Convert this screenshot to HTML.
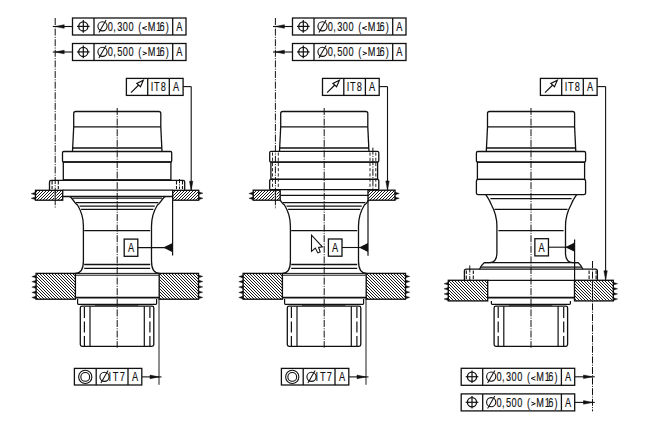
<!DOCTYPE html>
<html><head><meta charset="utf-8"><style>
html,body{margin:0;padding:0;background:#fff;width:649px;height:433px;overflow:hidden}
svg{display:block}
text{font-family:"Liberation Sans",sans-serif;fill:#111;stroke:#111;stroke-width:0.15px}
</style></head><body>
<svg width="649" height="433" viewBox="0 0 649 433">
<defs>
<pattern id="ht" width="3" height="3" patternUnits="userSpaceOnUse"><rect width="3" height="3" fill="#fff"/><path d="M-1 4L4 -1M-1 1L1 -1M2 4L4 2" stroke="#000" stroke-width="0.9"/></pattern>
<pattern id="hb" width="3" height="3" patternUnits="userSpaceOnUse"><rect width="3" height="3" fill="#fff"/><path d="M-1 -1L4 4M-1 2L1 4M2 -1L4 1" stroke="#000" stroke-width="0.9"/></pattern>
</defs>
<rect width="649" height="433" fill="#fff"/>
<rect x="72.5" y="18" width="113.5" height="17" fill="none" stroke="#111" stroke-width="1.3"/>
<line x1="94" y1="18" x2="94" y2="35" stroke="#111" stroke-width="1.3"/>
<line x1="172.7" y1="18" x2="172.7" y2="35" stroke="#111" stroke-width="1.3"/>
<circle cx="83.3" cy="26.4" r="4.6" fill="none" stroke="#111" stroke-width="1.3"/>
<line x1="77" y1="26.4" x2="89.6" y2="26.4" stroke="#111" stroke-width="1.2"/>
<line x1="83.3" y1="20.1" x2="83.3" y2="32.7" stroke="#111" stroke-width="1.2"/>
<circle cx="102.5" cy="26.3" r="4.6" fill="none" stroke="#111" stroke-width="1.1"/>
<line x1="98.9" y1="32.6" x2="106.1" y2="20.1" stroke="#111" stroke-width="1.05"/>
<g transform="scale(0.72,1)" font-size="12.8"><text x="153.12" y="30.9" text-anchor="middle">0</text><text x="159.17" y="30.9" text-anchor="middle">,</text><text x="166.39" y="30.9" text-anchor="middle">3</text><text x="174.03" y="30.9" text-anchor="middle">0</text><text x="182.08" y="30.9" text-anchor="middle">0</text><text x="194.31" y="30.9" text-anchor="middle">(</text><text x="210.42" y="30.9" text-anchor="middle">M</text><text x="220.14" y="30.9" text-anchor="middle">1</text><text x="225.14" y="30.9" text-anchor="middle">6</text><text x="232.36" y="30.9" text-anchor="middle">)</text><text x="249.1" y="30.9" text-anchor="middle">A</text></g>
<path d="M146.8 26.4L142.4 28.1L146.8 29.8" fill="none" stroke="#111" stroke-width="1.0"/>
<rect x="72.5" y="43.5" width="113.5" height="17" fill="none" stroke="#111" stroke-width="1.3"/>
<line x1="94" y1="43.5" x2="94" y2="60.5" stroke="#111" stroke-width="1.3"/>
<line x1="172.7" y1="43.5" x2="172.7" y2="60.5" stroke="#111" stroke-width="1.3"/>
<circle cx="83.3" cy="51.9" r="4.6" fill="none" stroke="#111" stroke-width="1.3"/>
<line x1="77" y1="51.9" x2="89.6" y2="51.9" stroke="#111" stroke-width="1.2"/>
<line x1="83.3" y1="45.6" x2="83.3" y2="58.2" stroke="#111" stroke-width="1.2"/>
<circle cx="102.5" cy="51.8" r="4.6" fill="none" stroke="#111" stroke-width="1.1"/>
<line x1="98.9" y1="58.1" x2="106.1" y2="45.6" stroke="#111" stroke-width="1.05"/>
<g transform="scale(0.72,1)" font-size="12.8"><text x="153.12" y="56.4" text-anchor="middle">0</text><text x="159.17" y="56.4" text-anchor="middle">,</text><text x="166.39" y="56.4" text-anchor="middle">5</text><text x="174.03" y="56.4" text-anchor="middle">0</text><text x="182.08" y="56.4" text-anchor="middle">0</text><text x="194.31" y="56.4" text-anchor="middle">(</text><text x="210.42" y="56.4" text-anchor="middle">M</text><text x="220.14" y="56.4" text-anchor="middle">1</text><text x="225.14" y="56.4" text-anchor="middle">6</text><text x="232.36" y="56.4" text-anchor="middle">)</text><text x="249.1" y="56.4" text-anchor="middle">A</text></g>
<path d="M142.7 51.7L146.7 53.3L142.7 54.9" fill="none" stroke="#111" stroke-width="1.0"/>
<line x1="52.8" y1="26.5" x2="72.5" y2="26.5" stroke="#111" stroke-width="1.1"/>
<path d="M55.2 26.5L64.2 24.7L64.2 28.3Z" fill="#111" stroke="#111" stroke-width="0.5"/>
<line x1="52.8" y1="52" x2="72.5" y2="52" stroke="#111" stroke-width="1.1"/>
<path d="M55.2 52L64.2 50.2L64.2 53.8Z" fill="#111" stroke="#111" stroke-width="0.5"/>
<rect x="126.4" y="78.4" width="56.7" height="17" fill="none" stroke="#111" stroke-width="1.3"/>
<line x1="147.7" y1="78.4" x2="147.7" y2="95.4" stroke="#111" stroke-width="1.3"/>
<line x1="169.3" y1="78.4" x2="169.3" y2="95.4" stroke="#111" stroke-width="1.3"/>
<line x1="131" y1="92.6" x2="138.7" y2="85" stroke="#111" stroke-width="1.15"/>
<path d="M143.3 80.3L136.8 83.4L140.5 86.7Z" fill="none" stroke="#111" stroke-width="1.15"/>
<g transform="scale(0.72,1)" font-size="12.8"><text x="211.11" y="91.3" text-anchor="middle">I</text><text x="217.64" y="91.3" text-anchor="middle">T</text><text x="226.67" y="91.3" text-anchor="middle">8</text><text x="244.58" y="91.3" text-anchor="middle">A</text></g>
<line x1="183.1" y1="86.6" x2="191.2" y2="86.6" stroke="#111" stroke-width="1.1"/>
<line x1="191.2" y1="86.6" x2="191.2" y2="190.3" stroke="#111" stroke-width="1.1"/>
<path d="M191.2 190.3L189.5 181.3L192.9 181.3Z" fill="#111" stroke="#111" stroke-width="0.5"/>
<path d="M73.7 127V113.5Q73.7 111.5 75.7 111.5H158.8Q160.8 111.5 160.8 113.5V127" fill="none" stroke="#111" stroke-width="1.3"/>
<line x1="73.7" y1="126.8" x2="160.8" y2="126.8" stroke="#111" stroke-width="1.3"/>
<line x1="73.7" y1="127" x2="72.5" y2="151.5" stroke="#111" stroke-width="1.3"/>
<line x1="160.8" y1="127" x2="162" y2="151.5" stroke="#111" stroke-width="1.3"/>
<line x1="72.5" y1="148" x2="162" y2="148" stroke="#111" stroke-width="1.3"/>
<rect x="62.5" y="151.5" width="109.2" height="10.5" fill="none" stroke="#111" stroke-width="1.3" rx="1.2"/>
<rect x="63.3" y="162" width="107.6" height="17.8" fill="none" stroke="#111" stroke-width="1.3"/>
<path d="M49.5 190.2V182Q49.5 180.4 51.1 180.4H183.1Q184.7 180.4 184.7 182V190.2" fill="none" stroke="#111" stroke-width="1.3"/>
<line x1="52.1" y1="181" x2="52.1" y2="189" stroke="#111" stroke-width="1.1" stroke-dasharray="3.5 1.5"/>
<line x1="58.3" y1="181" x2="58.3" y2="189" stroke="#111" stroke-width="1.1" stroke-dasharray="3.5 1.5"/>
<line x1="176.5" y1="181" x2="176.5" y2="189" stroke="#111" stroke-width="1.1" stroke-dasharray="3.5 1.5"/>
<line x1="182.5" y1="181" x2="182.5" y2="189" stroke="#111" stroke-width="1.1" stroke-dasharray="3.5 1.5"/>
<line x1="179.5" y1="179" x2="179.5" y2="189" stroke="#111" stroke-width="1.0" stroke-dasharray="4.2 1.2 1 1.2"/>
<line x1="62.7" y1="196.4" x2="172.7" y2="196.4" stroke="#111" stroke-width="1.1"/>
<path d="M62.7 196.6H68.8Q70.6 196.8 71.5 198L75.6 203.4Q76.5 204.4 77.4 204.9C79.6 208.5 83.4 214 83.4 226V261Q83.4 273.2 75.4 273.4" fill="none" stroke="#111" stroke-width="1.3"/>
<path d="M172.2 196.6H166.1Q164.3 196.8 163.4 198L159.3 203.4Q158.4 204.4 157.5 204.9C155.3 208.5 151.5 214 151.5 226V261Q151.5 273.2 159.5 273.4" fill="none" stroke="#111" stroke-width="1.3"/>
<line x1="72.4" y1="198.1" x2="162" y2="198.1" stroke="#111" stroke-width="1.1"/>
<line x1="76" y1="202.7" x2="158.4" y2="202.7" stroke="#111" stroke-width="1.2"/>
<line x1="79.6" y1="206.2" x2="154.8" y2="206.2" stroke="#111" stroke-width="1.2"/>
<line x1="81.1" y1="209.4" x2="153.3" y2="209.4" stroke="#111" stroke-width="1.3"/>
<line x1="84.2" y1="230.6" x2="150.2" y2="230.6" stroke="#111" stroke-width="1.2"/>
<line x1="84.2" y1="264.5" x2="150.2" y2="264.5" stroke="#111" stroke-width="1.7"/>
<line x1="84.2" y1="268.3" x2="150.2" y2="268.3" stroke="#111" stroke-width="1.2"/>
<rect x="35.5" y="190.3" width="27.2" height="9.9" fill="url(#ht)" stroke="#111" stroke-width="0"/>
<rect x="35.5" y="190.3" width="27.2" height="9.9" fill="none" stroke="#111" stroke-width="1.35"/>
<rect x="172.7" y="190.3" width="26" height="9.9" fill="url(#ht)" stroke="#111" stroke-width="0"/>
<rect x="172.7" y="190.3" width="26" height="9.9" fill="none" stroke="#111" stroke-width="1.35"/>
<line x1="62.7" y1="190.2" x2="172.7" y2="190.2" stroke="#111" stroke-width="1.3"/>
<path d="M35.5 192.3L31.2 193.7L35.5 195.1Z" fill="#111" stroke="#111" stroke-width="0.4"/>
<path d="M35.5 196.9L31.2 198.3L35.5 199.7Z" fill="#111" stroke="#111" stroke-width="0.4"/>
<path d="M198.7 191.8L203 193.2L198.7 194.6Z" fill="#111" stroke="#111" stroke-width="0.4"/>
<path d="M198.7 196.9L203 198.3L198.7 199.7Z" fill="#111" stroke="#111" stroke-width="0.4"/>
<line x1="55.2" y1="191" x2="55.2" y2="199.5" stroke="#fff" stroke-width="2.2"/>
<line x1="55.2" y1="191" x2="55.2" y2="199.5" stroke="#111" stroke-width="0.9"/>
<line x1="55.2" y1="18" x2="55.2" y2="208.4" stroke="#111" stroke-width="1.0" stroke-dasharray="7 1.3 1 1.3"/>
<line x1="117.2" y1="108" x2="117.2" y2="347.7" stroke="#111" stroke-width="1.0" stroke-dasharray="7 1.3 1 1.3"/>
<rect x="36.1" y="273.4" width="39.3" height="25.8" fill="url(#hb)" stroke="#111" stroke-width="0"/>
<rect x="36.1" y="273.4" width="39.3" height="25.8" fill="none" stroke="#111" stroke-width="1.35"/>
<rect x="159.2" y="273.4" width="39.3" height="25.8" fill="url(#hb)" stroke="#111" stroke-width="0"/>
<rect x="159.2" y="273.4" width="39.3" height="25.8" fill="none" stroke="#111" stroke-width="1.35"/>
<path d="M36.1 275.2L31.8 276.6L36.1 278Z" fill="#111" stroke="#111" stroke-width="0.4"/>
<path d="M36.1 280.3L31.8 281.7L36.1 283.1Z" fill="#111" stroke="#111" stroke-width="0.4"/>
<path d="M36.1 285.7L31.8 287.1L36.1 288.5Z" fill="#111" stroke="#111" stroke-width="0.4"/>
<path d="M36.1 291L31.8 292.4L36.1 293.8Z" fill="#111" stroke="#111" stroke-width="0.4"/>
<path d="M36.1 296.1L31.8 297.5L36.1 298.9Z" fill="#111" stroke="#111" stroke-width="0.4"/>
<path d="M198.5 275L202.8 276.4L198.5 277.8Z" fill="#111" stroke="#111" stroke-width="0.4"/>
<path d="M198.5 280.1L202.8 281.5L198.5 282.9Z" fill="#111" stroke="#111" stroke-width="0.4"/>
<path d="M198.5 285.5L202.8 286.9L198.5 288.3Z" fill="#111" stroke="#111" stroke-width="0.4"/>
<path d="M198.5 290.8L202.8 292.2L198.5 293.6Z" fill="#111" stroke="#111" stroke-width="0.4"/>
<path d="M198.5 296L202.8 297.4L198.5 298.8Z" fill="#111" stroke="#111" stroke-width="0.4"/>
<line x1="75.4" y1="273.4" x2="159.2" y2="273.4" stroke="#111" stroke-width="1.0"/>
<line x1="75.4" y1="275.2" x2="159.2" y2="275.2" stroke="#111" stroke-width="1.0"/>
<line x1="75.4" y1="297.7" x2="159.2" y2="297.7" stroke="#111" stroke-width="1.8"/>
<path d="M77.6 299V303.6Q77.6 304.4 78.4 304.4H155.8Q156.6 304.4 156.6 303.6V299" fill="none" stroke="#111" stroke-width="1.2"/>
<line x1="95" y1="305.2" x2="138.4" y2="305.2" stroke="#111" stroke-width="0.9"/>
<path d="M80.3 308V344.6Q80.3 346.4 82.1 346.4H152Q153.8 346.4 153.8 344.6V308Q153.8 306.2 152 306.2H82.1Q80.3 306.2 80.3 308Z" fill="none" stroke="#111" stroke-width="1.3"/>
<line x1="90" y1="306.2" x2="90" y2="346.4" stroke="#111" stroke-width="1.2"/>
<line x1="144.3" y1="306.2" x2="144.3" y2="346.4" stroke="#111" stroke-width="1.2"/>
<line x1="84.4" y1="307" x2="84.4" y2="346.4" stroke="#111" stroke-width="1.2" stroke-dasharray="11 3.5"/>
<line x1="149.9" y1="307" x2="149.9" y2="346.4" stroke="#111" stroke-width="1.2" stroke-dasharray="11 3.5"/>
<rect x="124.2" y="239.1" width="13.6" height="17.2" fill="none" stroke="#111" stroke-width="1.3"/>
<g transform="scale(0.72,1)" font-size="12.8"><text x="181.94" y="252" text-anchor="middle">A</text></g>
<line x1="137.8" y1="247.6" x2="172.6" y2="247.6" stroke="#111" stroke-width="1.1"/>
<path d="M163.2 247.6L172.6 243L172.6 252.2Z" fill="#111"/>
<line x1="172.6" y1="200.2" x2="172.6" y2="255.6" stroke="#111" stroke-width="1.2"/>
<line x1="159" y1="299.2" x2="159" y2="384.8" stroke="#111" stroke-width="0.95"/>
<rect x="74.4" y="368.4" width="67.4" height="16.6" fill="none" stroke="#111" stroke-width="1.3"/>
<line x1="96.2" y1="368.4" x2="96.2" y2="385" stroke="#111" stroke-width="1.3"/>
<line x1="128" y1="368.4" x2="128" y2="385" stroke="#111" stroke-width="1.3"/>
<circle cx="85.25" cy="376.9" r="6.6" fill="none" stroke="#111" stroke-width="1.1"/>
<circle cx="85.25" cy="376.9" r="4.4" fill="none" stroke="#111" stroke-width="1.1"/>
<circle cx="104.5" cy="376.8" r="4.6" fill="none" stroke="#111" stroke-width="1.1"/>
<line x1="100.9" y1="383.1" x2="108.1" y2="370.6" stroke="#111" stroke-width="1.05"/>
<g transform="scale(0.72,1)" font-size="12.8"><text x="152.5" y="380.8" text-anchor="middle">I</text><text x="160.69" y="380.8" text-anchor="middle">T</text><text x="169.86" y="380.8" text-anchor="middle">7</text><text x="187.64" y="380.8" text-anchor="middle">A</text></g>
<line x1="142.1" y1="376.9" x2="161.5" y2="376.9" stroke="#111" stroke-width="1.1"/>
<path d="M159 376.9L150 378.7L150 375.1Z" fill="#111" stroke="#111" stroke-width="0.5"/>
<rect x="292.5" y="18" width="113.5" height="17" fill="none" stroke="#111" stroke-width="1.3"/>
<line x1="314" y1="18" x2="314" y2="35" stroke="#111" stroke-width="1.3"/>
<line x1="392.7" y1="18" x2="392.7" y2="35" stroke="#111" stroke-width="1.3"/>
<circle cx="303.3" cy="26.4" r="4.6" fill="none" stroke="#111" stroke-width="1.3"/>
<line x1="297" y1="26.4" x2="309.6" y2="26.4" stroke="#111" stroke-width="1.2"/>
<line x1="303.3" y1="20.1" x2="303.3" y2="32.7" stroke="#111" stroke-width="1.2"/>
<circle cx="322.5" cy="26.3" r="4.6" fill="none" stroke="#111" stroke-width="1.1"/>
<line x1="318.9" y1="32.6" x2="326.1" y2="20.1" stroke="#111" stroke-width="1.05"/>
<g transform="scale(0.72,1)" font-size="12.8"><text x="458.68" y="30.9" text-anchor="middle">0</text><text x="464.72" y="30.9" text-anchor="middle">,</text><text x="471.94" y="30.9" text-anchor="middle">3</text><text x="479.58" y="30.9" text-anchor="middle">0</text><text x="487.64" y="30.9" text-anchor="middle">0</text><text x="499.86" y="30.9" text-anchor="middle">(</text><text x="515.97" y="30.9" text-anchor="middle">M</text><text x="525.69" y="30.9" text-anchor="middle">1</text><text x="530.69" y="30.9" text-anchor="middle">6</text><text x="537.92" y="30.9" text-anchor="middle">)</text><text x="554.65" y="30.9" text-anchor="middle">A</text></g>
<path d="M366.8 26.4L362.4 28.1L366.8 29.8" fill="none" stroke="#111" stroke-width="1.0"/>
<rect x="292.5" y="43.5" width="113.5" height="17" fill="none" stroke="#111" stroke-width="1.3"/>
<line x1="314" y1="43.5" x2="314" y2="60.5" stroke="#111" stroke-width="1.3"/>
<line x1="392.7" y1="43.5" x2="392.7" y2="60.5" stroke="#111" stroke-width="1.3"/>
<circle cx="303.3" cy="51.9" r="4.6" fill="none" stroke="#111" stroke-width="1.3"/>
<line x1="297" y1="51.9" x2="309.6" y2="51.9" stroke="#111" stroke-width="1.2"/>
<line x1="303.3" y1="45.6" x2="303.3" y2="58.2" stroke="#111" stroke-width="1.2"/>
<circle cx="322.5" cy="51.8" r="4.6" fill="none" stroke="#111" stroke-width="1.1"/>
<line x1="318.9" y1="58.1" x2="326.1" y2="45.6" stroke="#111" stroke-width="1.05"/>
<g transform="scale(0.72,1)" font-size="12.8"><text x="458.68" y="56.4" text-anchor="middle">0</text><text x="464.72" y="56.4" text-anchor="middle">,</text><text x="471.94" y="56.4" text-anchor="middle">5</text><text x="479.58" y="56.4" text-anchor="middle">0</text><text x="487.64" y="56.4" text-anchor="middle">0</text><text x="499.86" y="56.4" text-anchor="middle">(</text><text x="515.97" y="56.4" text-anchor="middle">M</text><text x="525.69" y="56.4" text-anchor="middle">1</text><text x="530.69" y="56.4" text-anchor="middle">6</text><text x="537.92" y="56.4" text-anchor="middle">)</text><text x="554.65" y="56.4" text-anchor="middle">A</text></g>
<path d="M362.7 51.7L366.7 53.3L362.7 54.9" fill="none" stroke="#111" stroke-width="1.0"/>
<line x1="273" y1="26.5" x2="292.5" y2="26.5" stroke="#111" stroke-width="1.1"/>
<path d="M275.4 26.5L284.4 24.7L284.4 28.3Z" fill="#111" stroke="#111" stroke-width="0.5"/>
<line x1="273" y1="52" x2="292.5" y2="52" stroke="#111" stroke-width="1.1"/>
<path d="M275.4 52L284.4 50.2L284.4 53.8Z" fill="#111" stroke="#111" stroke-width="0.5"/>
<rect x="322.5" y="78.4" width="56.7" height="17" fill="none" stroke="#111" stroke-width="1.3"/>
<line x1="343.8" y1="78.4" x2="343.8" y2="95.4" stroke="#111" stroke-width="1.3"/>
<line x1="365.4" y1="78.4" x2="365.4" y2="95.4" stroke="#111" stroke-width="1.3"/>
<line x1="327.1" y1="92.6" x2="334.8" y2="85" stroke="#111" stroke-width="1.15"/>
<path d="M339.4 80.3L332.9 83.4L336.6 86.7Z" fill="none" stroke="#111" stroke-width="1.15"/>
<g transform="scale(0.72,1)" font-size="12.8"><text x="483.47" y="91.3" text-anchor="middle">I</text><text x="490" y="91.3" text-anchor="middle">T</text><text x="499.03" y="91.3" text-anchor="middle">8</text><text x="516.94" y="91.3" text-anchor="middle">A</text></g>
<line x1="379" y1="86.6" x2="387.5" y2="86.6" stroke="#111" stroke-width="1.1"/>
<line x1="387.5" y1="86.6" x2="387.5" y2="189.9" stroke="#111" stroke-width="1.1"/>
<path d="M387.5 189.9L385.8 180.9L389.2 180.9Z" fill="#111" stroke="#111" stroke-width="0.5"/>
<path d="M280.7 127V113.5Q280.7 111.5 282.7 111.5H365.8Q367.8 111.5 367.8 113.5V127" fill="none" stroke="#111" stroke-width="1.3"/>
<line x1="280.7" y1="126.8" x2="367.8" y2="126.8" stroke="#111" stroke-width="1.3"/>
<line x1="280.7" y1="127" x2="279.5" y2="151.5" stroke="#111" stroke-width="1.3"/>
<line x1="367.8" y1="127" x2="369" y2="151.5" stroke="#111" stroke-width="1.3"/>
<line x1="279.5" y1="148" x2="369" y2="148" stroke="#111" stroke-width="1.3"/>
<rect x="269.7" y="151.4" width="109.1" height="10.7" fill="none" stroke="#111" stroke-width="1.3" rx="1.3"/>
<rect x="270.9" y="162.1" width="106.7" height="17.2" fill="none" stroke="#111" stroke-width="1.3"/>
<rect x="269.7" y="179.3" width="109.1" height="10.4" fill="none" stroke="#111" stroke-width="1.3" rx="1.3"/>
<line x1="272.5" y1="152.5" x2="272.5" y2="189" stroke="#111" stroke-width="0.9" stroke-dasharray="3.2 2"/>
<line x1="278.3" y1="152.5" x2="278.3" y2="189" stroke="#111" stroke-width="0.9" stroke-dasharray="3.2 2"/>
<line x1="370" y1="152.5" x2="370" y2="189" stroke="#111" stroke-width="0.9" stroke-dasharray="3.2 2"/>
<line x1="375.8" y1="152.5" x2="375.8" y2="189" stroke="#111" stroke-width="0.9" stroke-dasharray="3.2 2"/>
<line x1="269.7" y1="195.4" x2="379.7" y2="195.4" stroke="#111" stroke-width="1.3"/>
<path d="M269.7 196.6H275.8Q277.6 196.8 278.5 198L282.6 203.4Q283.5 204.4 284.4 204.9C286.6 208.5 290.4 214 290.4 226V261Q290.4 273.2 282.4 273.4" fill="none" stroke="#111" stroke-width="1.3"/>
<path d="M379.2 196.6H373.1Q371.3 196.8 370.4 198L366.3 203.4Q365.4 204.4 364.5 204.9C362.3 208.5 358.5 214 358.5 226V261Q358.5 273.2 366.5 273.4" fill="none" stroke="#111" stroke-width="1.3"/>
<line x1="283" y1="202.7" x2="365.4" y2="202.7" stroke="#111" stroke-width="1.2"/>
<line x1="286.6" y1="206.2" x2="361.8" y2="206.2" stroke="#111" stroke-width="1.2"/>
<line x1="288.1" y1="209.4" x2="360.3" y2="209.4" stroke="#111" stroke-width="1.3"/>
<line x1="291.2" y1="230.6" x2="357.2" y2="230.6" stroke="#111" stroke-width="1.2"/>
<line x1="291.2" y1="264.5" x2="357.2" y2="264.5" stroke="#111" stroke-width="1.7"/>
<line x1="291.2" y1="268.3" x2="357.2" y2="268.3" stroke="#111" stroke-width="1.2"/>
<rect x="253.2" y="190.2" width="27" height="10" fill="url(#ht)" stroke="#111" stroke-width="0"/>
<rect x="253.2" y="190.2" width="27" height="10" fill="none" stroke="#111" stroke-width="1.35"/>
<rect x="368" y="190.2" width="27" height="10" fill="url(#ht)" stroke="#111" stroke-width="0"/>
<rect x="368" y="190.2" width="27" height="10" fill="none" stroke="#111" stroke-width="1.35"/>
<path d="M253.2 192.1L248.9 193.5L253.2 194.9Z" fill="#111" stroke="#111" stroke-width="0.4"/>
<path d="M253.2 196.9L248.9 198.3L253.2 199.7Z" fill="#111" stroke="#111" stroke-width="0.4"/>
<path d="M395 192.1L399.3 193.5L395 194.9Z" fill="#111" stroke="#111" stroke-width="0.4"/>
<path d="M395 196.9L399.3 198.3L395 199.7Z" fill="#111" stroke="#111" stroke-width="0.4"/>
<line x1="275.4" y1="191" x2="275.4" y2="199.5" stroke="#fff" stroke-width="2.2"/>
<line x1="275.4" y1="191" x2="275.4" y2="199.5" stroke="#111" stroke-width="0.9"/>
<line x1="275.4" y1="18" x2="275.4" y2="209" stroke="#111" stroke-width="1.0" stroke-dasharray="7 1.3 1 1.3"/>
<line x1="372.9" y1="147.6" x2="372.9" y2="190" stroke="#111" stroke-width="1.0" stroke-dasharray="7 1.3 1 1.3"/>
<line x1="324.2" y1="108" x2="324.2" y2="347.7" stroke="#111" stroke-width="1.0" stroke-dasharray="7 1.3 1 1.3"/>
<rect x="243.1" y="273.4" width="39.3" height="25.8" fill="url(#hb)" stroke="#111" stroke-width="0"/>
<rect x="243.1" y="273.4" width="39.3" height="25.8" fill="none" stroke="#111" stroke-width="1.35"/>
<rect x="366.2" y="273.4" width="39.3" height="25.8" fill="url(#hb)" stroke="#111" stroke-width="0"/>
<rect x="366.2" y="273.4" width="39.3" height="25.8" fill="none" stroke="#111" stroke-width="1.35"/>
<path d="M243.1 275.2L238.8 276.6L243.1 278Z" fill="#111" stroke="#111" stroke-width="0.4"/>
<path d="M243.1 280.3L238.8 281.7L243.1 283.1Z" fill="#111" stroke="#111" stroke-width="0.4"/>
<path d="M243.1 285.7L238.8 287.1L243.1 288.5Z" fill="#111" stroke="#111" stroke-width="0.4"/>
<path d="M243.1 291L238.8 292.4L243.1 293.8Z" fill="#111" stroke="#111" stroke-width="0.4"/>
<path d="M243.1 296.1L238.8 297.5L243.1 298.9Z" fill="#111" stroke="#111" stroke-width="0.4"/>
<path d="M405.5 275L409.8 276.4L405.5 277.8Z" fill="#111" stroke="#111" stroke-width="0.4"/>
<path d="M405.5 280.1L409.8 281.5L405.5 282.9Z" fill="#111" stroke="#111" stroke-width="0.4"/>
<path d="M405.5 285.5L409.8 286.9L405.5 288.3Z" fill="#111" stroke="#111" stroke-width="0.4"/>
<path d="M405.5 290.8L409.8 292.2L405.5 293.6Z" fill="#111" stroke="#111" stroke-width="0.4"/>
<path d="M405.5 296L409.8 297.4L405.5 298.8Z" fill="#111" stroke="#111" stroke-width="0.4"/>
<line x1="282.4" y1="273.4" x2="366.2" y2="273.4" stroke="#111" stroke-width="1.0"/>
<line x1="282.4" y1="275.2" x2="366.2" y2="275.2" stroke="#111" stroke-width="1.0"/>
<line x1="282.4" y1="297.7" x2="366.2" y2="297.7" stroke="#111" stroke-width="1.8"/>
<path d="M284.6 299V303.6Q284.6 304.4 285.4 304.4H362.8Q363.6 304.4 363.6 303.6V299" fill="none" stroke="#111" stroke-width="1.2"/>
<line x1="302" y1="305.2" x2="345.4" y2="305.2" stroke="#111" stroke-width="0.9"/>
<path d="M287.3 308V344.6Q287.3 346.4 289.1 346.4H359Q360.8 346.4 360.8 344.6V308Q360.8 306.2 359 306.2H289.1Q287.3 306.2 287.3 308Z" fill="none" stroke="#111" stroke-width="1.3"/>
<line x1="297" y1="306.2" x2="297" y2="346.4" stroke="#111" stroke-width="1.2"/>
<line x1="351.3" y1="306.2" x2="351.3" y2="346.4" stroke="#111" stroke-width="1.2"/>
<line x1="291.4" y1="307" x2="291.4" y2="346.4" stroke="#111" stroke-width="1.2" stroke-dasharray="11 3.5"/>
<line x1="356.9" y1="307" x2="356.9" y2="346.4" stroke="#111" stroke-width="1.2" stroke-dasharray="11 3.5"/>
<rect x="328.4" y="239" width="13.6" height="17.2" fill="none" stroke="#111" stroke-width="1.3"/>
<g transform="scale(0.72,1)" font-size="12.8"><text x="465.56" y="251.9" text-anchor="middle">A</text></g>
<line x1="342" y1="247.5" x2="368" y2="247.5" stroke="#111" stroke-width="1.1"/>
<path d="M359 247.5L368 242.9L368 252.1Z" fill="#111"/>
<line x1="368" y1="200.2" x2="368" y2="255.8" stroke="#111" stroke-width="1.2"/>
<line x1="366" y1="299.2" x2="366" y2="384.8" stroke="#111" stroke-width="0.95"/>
<rect x="281.4" y="368.4" width="67.4" height="16.6" fill="none" stroke="#111" stroke-width="1.3"/>
<line x1="303.2" y1="368.4" x2="303.2" y2="385" stroke="#111" stroke-width="1.3"/>
<line x1="335" y1="368.4" x2="335" y2="385" stroke="#111" stroke-width="1.3"/>
<circle cx="292.25" cy="376.9" r="6.6" fill="none" stroke="#111" stroke-width="1.1"/>
<circle cx="292.25" cy="376.9" r="4.4" fill="none" stroke="#111" stroke-width="1.1"/>
<circle cx="311.5" cy="376.8" r="4.6" fill="none" stroke="#111" stroke-width="1.1"/>
<line x1="307.9" y1="383.1" x2="315.1" y2="370.6" stroke="#111" stroke-width="1.05"/>
<g transform="scale(0.72,1)" font-size="12.8"><text x="440" y="380.8" text-anchor="middle">I</text><text x="448.19" y="380.8" text-anchor="middle">T</text><text x="457.36" y="380.8" text-anchor="middle">7</text><text x="475.14" y="380.8" text-anchor="middle">A</text></g>
<line x1="349.1" y1="376.9" x2="368.5" y2="376.9" stroke="#111" stroke-width="1.1"/>
<path d="M366 376.9L357 378.7L357 375.1Z" fill="#111" stroke="#111" stroke-width="0.5"/>
<path d="M311.5 235.2L311.5 251.3L315.3 248.1L317.9 252.9L320.2 252L318.6 247.4L322.4 246.8Z" fill="#fff" stroke="#111" stroke-width="1.1"/>
<rect x="540.4" y="78.4" width="56.7" height="17" fill="none" stroke="#111" stroke-width="1.3"/>
<line x1="561.7" y1="78.4" x2="561.7" y2="95.4" stroke="#111" stroke-width="1.3"/>
<line x1="583.3" y1="78.4" x2="583.3" y2="95.4" stroke="#111" stroke-width="1.3"/>
<line x1="545" y1="92.6" x2="552.7" y2="85" stroke="#111" stroke-width="1.15"/>
<path d="M557.3 80.3L550.8 83.4L554.5 86.7Z" fill="none" stroke="#111" stroke-width="1.15"/>
<g transform="scale(0.72,1)" font-size="12.8"><text x="786.11" y="91.3" text-anchor="middle">I</text><text x="792.64" y="91.3" text-anchor="middle">T</text><text x="801.67" y="91.3" text-anchor="middle">8</text><text x="819.58" y="91.3" text-anchor="middle">A</text></g>
<line x1="597.3" y1="86.6" x2="605.6" y2="86.6" stroke="#111" stroke-width="1.1"/>
<line x1="605.6" y1="86.6" x2="605.6" y2="279.8" stroke="#111" stroke-width="1.1"/>
<path d="M605.6 279.8L603.9 270.8L607.3 270.8Z" fill="#111" stroke="#111" stroke-width="0.5"/>
<path d="M487.5 127V113.5Q487.5 111.5 489.5 111.5H572.6Q574.6 111.5 574.6 113.5V127" fill="none" stroke="#111" stroke-width="1.3"/>
<line x1="487.5" y1="126.8" x2="574.6" y2="126.8" stroke="#111" stroke-width="1.3"/>
<line x1="487.5" y1="127" x2="486.3" y2="151.5" stroke="#111" stroke-width="1.3"/>
<line x1="574.6" y1="127" x2="575.8" y2="151.5" stroke="#111" stroke-width="1.3"/>
<line x1="486.3" y1="148" x2="575.8" y2="148" stroke="#111" stroke-width="1.3"/>
<rect x="476.4" y="151.5" width="109.2" height="10.7" fill="none" stroke="#111" stroke-width="1.3" rx="1.4"/>
<rect x="477.4" y="162.2" width="107.2" height="17.2" fill="none" stroke="#111" stroke-width="1.3"/>
<rect x="476.4" y="179.4" width="109.2" height="15.3" fill="none" stroke="#111" stroke-width="1.3" rx="1.8"/>
<path d="M485.8 194.7Q489.5 200 491.5 205Q496.9 215 496.9 226V253Q496.9 262.6 489.5 262.6H484.4Q482 264.5 479.5 269.2" fill="none" stroke="#111" stroke-width="1.3"/>
<path d="M576.6 194.7Q572.9 200 570.9 205Q565.5 215 565.5 226V253Q565.5 262.6 572.9 262.6H578Q580.4 264.5 582.9 269.2" fill="none" stroke="#111" stroke-width="1.3"/>
<line x1="484.4" y1="262.6" x2="577.6" y2="262.6" stroke="#111" stroke-width="1.3"/>
<line x1="480.4" y1="267.1" x2="581.6" y2="267.1" stroke="#111" stroke-width="1.3"/>
<line x1="490.4" y1="198.6" x2="571.6" y2="198.6" stroke="#111" stroke-width="1.3"/>
<line x1="494.5" y1="209.4" x2="567.5" y2="209.4" stroke="#111" stroke-width="1.3"/>
<line x1="498.4" y1="230.6" x2="563.6" y2="230.6" stroke="#111" stroke-width="1.2"/>
<path d="M464.4 280.3V271.1Q464.4 269.2 466.3 269.2H595.5Q597.4 269.2 597.4 271.1V280.3" fill="none" stroke="#111" stroke-width="1.3"/>
<line x1="466.3" y1="270.5" x2="466.3" y2="279.5" stroke="#111" stroke-width="1.1" stroke-dasharray="3.5 1.5"/>
<line x1="473.3" y1="270.5" x2="473.3" y2="279.5" stroke="#111" stroke-width="1.1" stroke-dasharray="3.5 1.5"/>
<line x1="589.1" y1="270.5" x2="589.1" y2="279.5" stroke="#111" stroke-width="1.1" stroke-dasharray="3.5 1.5"/>
<line x1="596.1" y1="270.5" x2="596.1" y2="279.5" stroke="#111" stroke-width="1.1" stroke-dasharray="3.5 1.5"/>
<line x1="469.8" y1="265.5" x2="469.8" y2="281" stroke="#111" stroke-width="1.0" stroke-dasharray="7 1.3 1 1.3"/>
<line x1="531" y1="108" x2="531" y2="347.7" stroke="#111" stroke-width="1.0" stroke-dasharray="7 1.3 1 1.3"/>
<rect x="448.3" y="280.3" width="39.4" height="20.6" fill="url(#hb)" stroke="#111" stroke-width="0"/>
<rect x="448.3" y="280.3" width="39.4" height="20.6" fill="none" stroke="#111" stroke-width="1.35"/>
<path d="M448.3 282.3L444 283.7L448.3 285.1Z" fill="#111" stroke="#111" stroke-width="0.4"/>
<path d="M448.3 287.4L444 288.8L448.3 290.2Z" fill="#111" stroke="#111" stroke-width="0.4"/>
<path d="M448.3 292.5L444 293.9L448.3 295.3Z" fill="#111" stroke="#111" stroke-width="0.4"/>
<path d="M448.3 297.7L444 299.1L448.3 300.5Z" fill="#111" stroke="#111" stroke-width="0.4"/>
<rect x="574.5" y="280.3" width="38.8" height="20.6" fill="url(#hb)" stroke="#111" stroke-width="0"/>
<rect x="574.5" y="280.3" width="38.8" height="20.6" fill="none" stroke="#111" stroke-width="1.35"/>
<path d="M613.3 282.3L617.6 283.7L613.3 285.1Z" fill="#111" stroke="#111" stroke-width="0.4"/>
<path d="M613.3 287.4L617.6 288.8L613.3 290.2Z" fill="#111" stroke="#111" stroke-width="0.4"/>
<path d="M613.3 292.5L617.6 293.9L613.3 295.3Z" fill="#111" stroke="#111" stroke-width="0.4"/>
<path d="M613.3 297.7L617.6 299.1L613.3 300.5Z" fill="#111" stroke="#111" stroke-width="0.4"/>
<line x1="487.7" y1="280.3" x2="574.5" y2="280.3" stroke="#111" stroke-width="1.3"/>
<line x1="487.7" y1="297.7" x2="574.5" y2="297.7" stroke="#111" stroke-width="1.8"/>
<path d="M491.4 300.9V303.6Q491.4 304.4 492.2 304.4H569.6Q570.4 304.4 570.4 303.6V300.9" fill="none" stroke="#111" stroke-width="1.2"/>
<line x1="508.8" y1="305.2" x2="552.2" y2="305.2" stroke="#111" stroke-width="0.9"/>
<path d="M494.1 308V344.6Q494.1 346.4 495.9 346.4H565.8Q567.6 346.4 567.6 344.6V308Q567.6 306.2 565.8 306.2H495.9Q494.1 306.2 494.1 308Z" fill="none" stroke="#111" stroke-width="1.3"/>
<line x1="503.8" y1="306.2" x2="503.8" y2="346.4" stroke="#111" stroke-width="1.2"/>
<line x1="558.1" y1="306.2" x2="558.1" y2="346.4" stroke="#111" stroke-width="1.2"/>
<line x1="498.2" y1="307" x2="498.2" y2="346.4" stroke="#111" stroke-width="1.2" stroke-dasharray="11 3.5"/>
<line x1="563.7" y1="307" x2="563.7" y2="346.4" stroke="#111" stroke-width="1.2" stroke-dasharray="11 3.5"/>
<line x1="592.5" y1="281" x2="592.5" y2="300.2" stroke="#fff" stroke-width="2.2"/>
<line x1="592.5" y1="281" x2="592.5" y2="300.2" stroke="#111" stroke-width="0.9"/>
<line x1="592.5" y1="261" x2="592.5" y2="411.3" stroke="#111" stroke-width="1.0" stroke-dasharray="7 1.3 1 1.3"/>
<rect x="534.85" y="238.7" width="13.6" height="17.2" fill="none" stroke="#111" stroke-width="1.3"/>
<g transform="scale(0.72,1)" font-size="12.8"><text x="752.29" y="251.6" text-anchor="middle">A</text></g>
<line x1="548.45" y1="247.2" x2="574.6" y2="247.2" stroke="#111" stroke-width="1.1"/>
<path d="M565.3 247.2L574.6 242.6L574.6 251.8Z" fill="#111"/>
<line x1="574.6" y1="239.4" x2="574.6" y2="280.3" stroke="#111" stroke-width="1.2"/>
<rect x="461.2" y="368.3" width="113.5" height="17" fill="none" stroke="#111" stroke-width="1.3"/>
<line x1="482.7" y1="368.3" x2="482.7" y2="385.3" stroke="#111" stroke-width="1.3"/>
<line x1="561.4" y1="368.3" x2="561.4" y2="385.3" stroke="#111" stroke-width="1.3"/>
<circle cx="472" cy="376.7" r="4.6" fill="none" stroke="#111" stroke-width="1.3"/>
<line x1="465.7" y1="376.7" x2="478.3" y2="376.7" stroke="#111" stroke-width="1.2"/>
<line x1="472" y1="370.4" x2="472" y2="383" stroke="#111" stroke-width="1.2"/>
<circle cx="491.2" cy="376.6" r="4.6" fill="none" stroke="#111" stroke-width="1.1"/>
<line x1="487.6" y1="382.9" x2="494.8" y2="370.4" stroke="#111" stroke-width="1.05"/>
<g transform="scale(0.72,1)" font-size="12.8"><text x="692.99" y="381.2" text-anchor="middle">0</text><text x="699.03" y="381.2" text-anchor="middle">,</text><text x="706.25" y="381.2" text-anchor="middle">3</text><text x="713.89" y="381.2" text-anchor="middle">0</text><text x="721.94" y="381.2" text-anchor="middle">0</text><text x="734.17" y="381.2" text-anchor="middle">(</text><text x="750.28" y="381.2" text-anchor="middle">M</text><text x="760" y="381.2" text-anchor="middle">1</text><text x="765" y="381.2" text-anchor="middle">6</text><text x="772.22" y="381.2" text-anchor="middle">)</text><text x="788.96" y="381.2" text-anchor="middle">A</text></g>
<path d="M535.5 376.7L531.1 378.4L535.5 380.1" fill="none" stroke="#111" stroke-width="1.0"/>
<rect x="461.2" y="393.9" width="113.5" height="17" fill="none" stroke="#111" stroke-width="1.3"/>
<line x1="482.7" y1="393.9" x2="482.7" y2="410.9" stroke="#111" stroke-width="1.3"/>
<line x1="561.4" y1="393.9" x2="561.4" y2="410.9" stroke="#111" stroke-width="1.3"/>
<circle cx="472" cy="402.3" r="4.6" fill="none" stroke="#111" stroke-width="1.3"/>
<line x1="465.7" y1="402.3" x2="478.3" y2="402.3" stroke="#111" stroke-width="1.2"/>
<line x1="472" y1="396" x2="472" y2="408.6" stroke="#111" stroke-width="1.2"/>
<circle cx="491.2" cy="402.2" r="4.6" fill="none" stroke="#111" stroke-width="1.1"/>
<line x1="487.6" y1="408.5" x2="494.8" y2="396" stroke="#111" stroke-width="1.05"/>
<g transform="scale(0.72,1)" font-size="12.8"><text x="692.99" y="406.8" text-anchor="middle">0</text><text x="699.03" y="406.8" text-anchor="middle">,</text><text x="706.25" y="406.8" text-anchor="middle">5</text><text x="713.89" y="406.8" text-anchor="middle">0</text><text x="721.94" y="406.8" text-anchor="middle">0</text><text x="734.17" y="406.8" text-anchor="middle">(</text><text x="750.28" y="406.8" text-anchor="middle">M</text><text x="760" y="406.8" text-anchor="middle">1</text><text x="765" y="406.8" text-anchor="middle">6</text><text x="772.22" y="406.8" text-anchor="middle">)</text><text x="788.96" y="406.8" text-anchor="middle">A</text></g>
<path d="M531.4 402.1L535.4 403.7L531.4 405.3" fill="none" stroke="#111" stroke-width="1.0"/>
<line x1="575" y1="376.8" x2="594.8" y2="376.8" stroke="#111" stroke-width="1.1"/>
<path d="M592.5 376.8L583.5 378.6L583.5 375Z" fill="#111" stroke="#111" stroke-width="0.5"/>
<line x1="575" y1="402.4" x2="594.8" y2="402.4" stroke="#111" stroke-width="1.1"/>
<path d="M592.5 402.4L583.5 404.2L583.5 400.6Z" fill="#111" stroke="#111" stroke-width="0.5"/>
</svg>
</body></html>
